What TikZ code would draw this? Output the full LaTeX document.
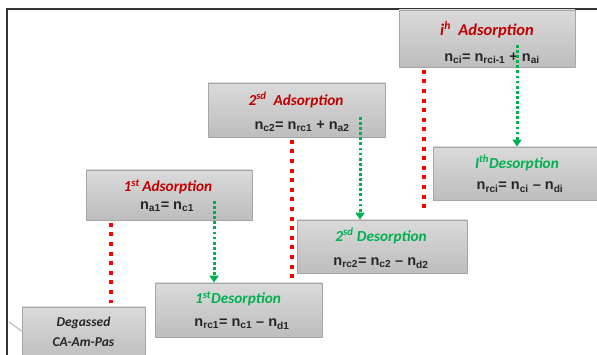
\documentclass[tikz,border=0pt]{standalone}
\usepackage{fontspec}
\setmainfont{Carlito}
\newfontfamily\eqfont{Liberation Sans}
\usetikzlibrary{arrows.meta,calc}
\definecolor{tred}{HTML}{C00000}
\definecolor{tgreen}{HTML}{00B050}
\definecolor{dred}{HTML}{FF0000}
\definecolor{boxedge}{HTML}{A6A6A6}
\definecolor{boxtop}{HTML}{DADADA}
\definecolor{boxbot}{HTML}{BDBDBD}
\tikzset{
  stagebox/.style={draw=boxedge, line width=0.8pt, top color=boxtop, bottom color=boxbot, rectangle, inner sep=0pt},
  redtitle/.style={text=tred, font=\fontsize{15.3}{17}\selectfont\bfseries\itshape, inner sep=0pt},
  greentitle/.style={text=tgreen, font=\fontsize{15.3}{17}\selectfont\bfseries\itshape, inner sep=0pt},
  eqtext/.style={text=black!85, font=\eqfont\fontsize{14.5}{16}\selectfont\bfseries, inner sep=0pt},
  degtext/.style={text=black!85, font=\fontsize{13.5}{15}\selectfont\bfseries\itshape, inner sep=0pt},
  redline/.style={dred, line width=4pt, dash pattern=on 4pt off 5.6pt},
  greenarrow/.style={tgreen, line width=3pt, dash pattern=on 2.8pt off 2.3pt, -{Triangle[width=9pt,length=7pt]}},
}
\begin{document}
\begin{tikzpicture}[x=1pt,y=-1pt]
\useasboundingbox (0,0) rectangle (597,355);
% frame
\draw[black!80, line width=2pt] (7,355) -- (7,9) -- (597,9);
% boxes
\node[stagebox, minimum width=176pt, minimum height=57pt] (adsi) at (487,38.5) {};
\node[stagebox, minimum width=177pt, minimum height=54pt] (ads2) at (296.5,110) {};
\node[stagebox, minimum width=166pt, minimum height=50pt] (ads1) at (169,195) {};
\node[stagebox, minimum width=123pt, minimum height=56pt] (deg) at (83.5,335) {};
\node[stagebox, minimum width=167pt, minimum height=54pt] (des1) at (238.5,310) {};
\node[stagebox, minimum width=170pt, minimum height=53pt] (des2) at (382,246.5) {};
\node[stagebox, minimum width=166pt, minimum height=53pt] (desi) at (516,173.5) {};
% texts
\node[redtitle, font=\fontsize{16.5}{18}\selectfont\bfseries\itshape] (adsit) at (487,30) {i\textsuperscript{h}\ \ Adsorption};
\node[eqtext] (adsie) at (492,58) {n\textsubscript{ci}= n\textsubscript{rci-1} + n\textsubscript{ai}};
\node[redtitle] (ads2t) at (296,100) {2\textsuperscript{sd}\ \ Adsorption};
\node[eqtext] (ads2e) at (302,126) {n\textsubscript{c2}= n\textsubscript{rc1} + n\textsubscript{a2}};
\node[redtitle] (ads1t) at (168,187) {1\textsuperscript{st}\,Adsorption};
\node[eqtext] (ads1e) at (167,207) {n\textsubscript{a1}= n\textsubscript{c1}};
\node[greentitle] (des1t) at (238,299) {1\textsuperscript{st}Desorption};
\node[eqtext] (des1e) at (242,324) {n\textsubscript{rc1}= n\textsubscript{c1} \textendash\ n\textsubscript{d1}};
\node[greentitle] (des2t) at (381,236) {2\textsuperscript{sd} Desorption};
\node[eqtext] (des2e) at (381,263) {n\textsubscript{rc2}= n\textsubscript{c2} \textendash\ n\textsubscript{d2}};
\node[greentitle] (desit) at (517,163) {I\textsuperscript{th}Desorption};
\node[eqtext] (desie) at (520,187) {n\textsubscript{rci}= n\textsubscript{ci} \textendash\ n\textsubscript{di}};
\node[degtext] (degt1) at (83.5,323) {Degassed};
\node[degtext] (degt2) at (83.5,342) {CA-Am-Pas};
% faint connector at left of degassed box
\coordinate (stub) at (9,322);
\draw[black!25, line width=1.2pt] (stub) -- ($(deg.north west)!0.43!(deg.south west)$);
% red dotted links
\draw[redline] (ads1.south -| 111,0) ++(0,2.5) -- ($(deg.north -| 111,0)+(0,-4)$);
\draw[redline] (ads2.south -| 292,0) ++(0,2.5) -- ($(des1.north -| 292,0)+(0,-5)$);
\draw[redline] (adsi.south -| 424,0) ++(0,2.5) -- ($(des2.north -| 424,0)+(0,-9)$);
% green dotted arrows
\coordinate (g1) at (214,201);
\coordinate (g2) at (360,117);
\coordinate (g3) at (517,45);
\draw[greenarrow] (g1) -- (g1 |- des1.north);
\draw[greenarrow] (g2) -- (g2 |- des2.north);
\draw[greenarrow] (g3) -- (g3 |- desi.north);
\end{tikzpicture}
\end{document}
